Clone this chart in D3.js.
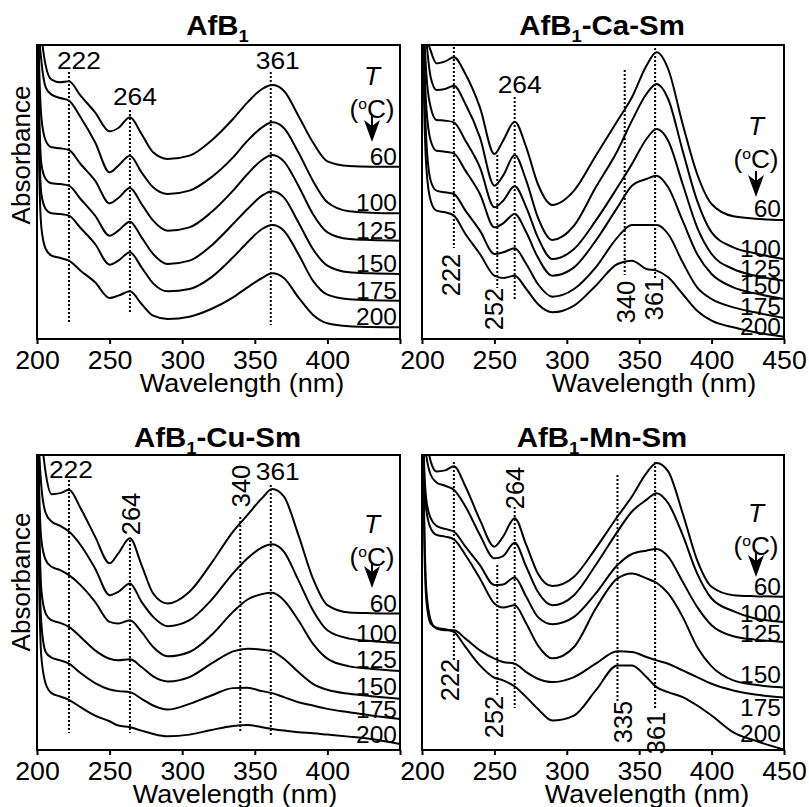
<!DOCTYPE html>
<meta charset="utf-8">
<style>
body { margin: 0; background: #fff; }
text { font-family: "Liberation Sans", Arial, sans-serif; fill: #000; }
.frame { fill: none; stroke: #000; stroke-width: 2px; }
.line { fill: none; stroke: #000; stroke-width: 2px; stroke-linejoin: round; }
.mark { stroke: #000; stroke-width: 2px; stroke-dasharray: 2,2; }
.axis path { display: none; }
.axis line { stroke: #000; stroke-width: 2px; }
</style>

<svg id="chart" width="809" height="807"></svg>

<script src="https://d3js.org/d3.v7.min.js"></script>
<script>
// wavelength grid (nm) shared by every spectrum
var wavelengths = [200.5, 201.5, 203, 206, 210, 216, 222, 230, 240, 250, 256, 264, 272, 280,
                   290, 305, 320, 335, 345, 355, 362, 370, 380, 390, 400, 415, 430, 450];

var temps = ["60", "100", "125", "150", "175", "200"];
var xTicks = [200, 250, 300, 350, 400, 450];

// absorbance (arbitrary units, curves offset), one row per temperature
var afb1 = [
  [109, 99.5, 91.5, 82, 77.8, 77.0, 77.3, 73, 68, 62.3, 63.3, 66.5, 61.5, 56, 54, 55, 59.5, 66, 71, 75, 76.2, 74.5, 67, 59, 53.3, 51.9, 51.7, 51.7],
  [105, 91.5, 83.5, 75.5, 73.3, 72.3, 71.5, 66.5, 59, 50, 52, 55, 50, 45.5, 43.5, 44.5, 48.5, 54.5, 59.5, 63.5, 65, 63.3, 56, 47.5, 41, 38.3, 37.9, 37.7],
  [100, 81.5, 66.5, 59.5, 57.5, 57.2, 56.7, 52.5, 47.5, 40.7, 42.3, 45.3, 40.5, 35.5, 32.5, 33.5, 38, 44.5, 49.5, 53.7, 55.2, 53.3, 46, 37.5, 32, 30, 29.7, 29.5],
  [98, 69.5, 52.5, 48, 46.7, 46.5, 46, 42, 37, 31, 32.5, 35.2, 30.5, 25.5, 22.5, 23.5, 28, 34.5, 39, 43, 44.3, 42.5, 35, 27, 22, 20, 19.7, 19.5],
  [95, 61.5, 43.5, 39, 37.7, 37.5, 37, 33.3, 28.5, 22.3, 23.5, 26, 21.5, 16.7, 14.3, 15, 18.5, 24.5, 29, 33, 34.2, 32.5, 25.5, 17.5, 13.3, 11.9, 11.6, 11.5],
  [92, 51.5, 33.5, 27, 25, 24.3, 23.5, 20.5, 17, 12.3, 13, 14.3, 10.5, 7, 6, 6.7, 9, 12.5, 15.5, 18.3, 19.7, 18.3, 12.5, 7.3, 4.7, 3.8, 3.6, 3.5]
];

var afb1Ca = [
  [110, 100, 91.5, 86.5, 82.7, 83.3, 84.5, 79.5, 69.5, 55.5, 59.5, 65.2, 57.5, 46.5, 40.2, 44.5, 55, 65.5, 72.5, 82, 86, 81, 64.5, 49.5, 40.5, 36.8, 36.1, 35.7],
  [108, 97, 89.5, 78.5, 74.7, 75, 76, 70.5, 60.5, 46, 49, 55.2, 47.5, 36.5, 29.7, 34, 45.5, 56.5, 65.5, 73.5, 76.5, 72, 56.5, 41.5, 32, 27.5, 25.7, 24],
  [105, 92, 79.5, 69.5, 65.7, 65.5, 65, 59.5, 51.5, 39.5, 41.5, 45.8, 39.5, 30.5, 24, 27, 35.5, 45.5, 52.5, 60, 63, 59.5, 46.5, 33.5, 25.5, 21, 19, 17.5],
  [102, 85, 69.5, 59.5, 56.5, 56.2, 55.7, 50.5, 43.5, 33.5, 34.7, 37.5, 32, 24.5, 19, 21.5, 29.5, 39.5, 46, 48, 49, 45.5, 35.5, 25.5, 19.5, 15.5, 13.7, 12],
  [100, 78, 59.5, 47.5, 44.5, 44, 43.5, 38.5, 32.5, 25.5, 26, 27.2, 22.5, 16.5, 12.7, 15, 21.5, 30.5, 34.2, 34.2, 34.2, 31.5, 23, 15.5, 12, 9.5, 8, 6.3],
  [98, 70, 51.5, 41.5, 38.5, 38, 37, 31.5, 25.5, 19, 18.3, 19, 15, 10.5, 8, 10, 16, 22.5, 23.5, 21, 20.5, 18.5, 13.5, 8.5, 5.5, 3.5, 2, 0.7]
];

var afb1Cu = [
  [110, 100, 93.8, 82.8, 76.5, 76.8, 77.8, 72.3, 63.8, 55.8, 58.8, 63.3, 55.3, 46.8, 43.8, 47.3, 55.8, 65.3, 70.3, 75.3, 78, 75.8, 64.3, 51.3, 43.3, 41.1, 40.9, 40.8],
  [105, 89.8, 78.8, 70.8, 68.3, 67, 65.3, 61.3, 54.3, 46.3, 47.3, 49.8, 44.3, 39.8, 37, 38.8, 44.8, 52.8, 57.3, 60.6, 61.5, 59.3, 50.8, 41.8, 35.8, 33.3, 32.6, 32],
  [102, 77.8, 62.8, 56.8, 54.8, 53.8, 52.3, 49.3, 44.3, 38.3, 37.8, 38.8, 35.3, 30.8, 28, 29.3, 34.3, 41.3, 45, 46.6, 47, 44.8, 38.8, 31.8, 27.3, 25, 24.3, 23.6],
  [100, 69.8, 47.8, 40.8, 38.8, 38, 36.8, 33.8, 29.8, 27.3, 26.8, 27.1, 24.8, 22, 20.5, 21.8, 25.8, 29.5, 30.3, 30, 29.5, 27.3, 23.3, 19.8, 18, 16.8, 16.1, 15.3],
  [97, 59.8, 37.8, 29.3, 27.6, 26.8, 25.8, 23, 20, 18.1, 17.6, 17.3, 15.3, 13.3, 12.1, 13.8, 16.3, 18.5, 18.6, 17.6, 17, 15.8, 14.3, 13.3, 12.3, 11.3, 10.3, 9.3],
  [95, 49.8, 27.8, 19.8, 17, 16, 15, 12.8, 10.3, 8.6, 7.3, 6.8, 5.8, 4.8, 4.1, 4.6, 6, 7.2, 7.5, 6.8, 6.3, 5.8, 5.3, 5, 4.6, 4, 3.3, 1.8]
];

var afb1Mn = [
  [110, 100, 93.8, 86.3, 83.3, 83.6, 84.8, 78.8, 68.8, 60.8, 63.8, 69.3, 61.3, 52.8, 49, 51.8, 60.3, 69.8, 75.8, 82.8, 85.8, 83.3, 70.8, 56.8, 48.8, 46.3, 46, 45.8],
  [108, 92.8, 87.8, 82.3, 80, 79, 77.8, 72.8, 64.3, 57.3, 58, 62, 54.8, 47.3, 43.3, 46.3, 55.3, 65.3, 71.3, 74.8, 76.8, 73.8, 64.3, 52.8, 45.3, 41.5, 39.3, 38.3],
  [105, 84.8, 74.8, 69.3, 67, 66.1, 65.3, 60.8, 55.3, 49.3, 49.5, 51.6, 45.8, 39.8, 37.6, 39.8, 46.8, 55.3, 58.6, 59.6, 60.1, 57.8, 50.3, 42.8, 37.3, 34, 33, 32.3],
  [104, 81.8, 71.8, 66.3, 64.3, 63.8, 63, 58.3, 51.3, 43.8, 42.6, 43.3, 37.8, 31.3, 27.4, 30.8, 42.3, 51.3, 52.8, 51.3, 50, 46.8, 39.8, 30.8, 25, 20.8, 19.5, 18.7],
  [100, 69.8, 47.8, 38.8, 36.3, 35.8, 35.8, 33.3, 29.8, 27.3, 26.3, 25.8, 23.3, 21.3, 20.3, 21.8, 25.8, 29.5, 29.3, 27.8, 26.8, 25.8, 23.8, 21.8, 19.8, 17.8, 16.6, 15.7],
  [98, 64.8, 44.8, 37.8, 36.6, 36.1, 35.3, 30.8, 25.3, 21.6, 20.8, 19, 15.8, 12.3, 8.8, 10.3, 17.8, 25.3, 25.3, 21.8, 18.8, 17.3, 15.8, 13.3, 10.3, 5.3, 2.8, 0.1]
];

// band positions (nm) marked with dotted lines
var peaks1 = [222, 264, 361];
var peaksCa = [222, 252, 264, 340, 361];
var peaksCu = [222, 264, 340, 361];
var peaksMn = [222, 252, 264, 335, 361];

// layout for each panel (pixels)
// marks: [line top, line bottom, label dx, label y, rotated?]
var panels = [
  {suffix: "", series: afb1, peaks: peaks1, left: 37, top: 45, width: 363, height: 294,
   last: false, ylab: 110, xlab: 205,
   marks: [[27, 278, 10, 24, 0], [65, 267, 5, 60, 0], [27, 280, 7, 24, 0]],
   labelDy: [-2, -2, -2, -2, -2, -2], tBase: 40, cBase: 73, tip: 97},
  {suffix: "-Ca-Sm", series: afb1Ca, peaks: peaksCa, left: 422, top: 45, width: 362, height: 294,
   last: true, xlab: 232,
   marks: [[2, 203, -3, 230, 1], [110, 243, -3, 264, 1], [52, 255, 5, 48, 0], [25, 230, 1, 257, 1], [3, 234, -1, 254, 1]],
   labelDy: [-3, -2, -4, -5, -3, -2], tBase: 90, cBase: 123, tip: 152},
  {suffix: "-Cu-Sm", series: afb1Cu, peaks: peaksCu, left: 37, top: 455, width: 363, height: 295,
   last: false, ylab: 127, xlab: 198,
   marks: [[25, 278, 2, 23, 0], [85, 278, 1, 59, 1], [62, 278, 1, 31, 1], [30, 280, 7, 25, 0]],
   labelDy: [-2, -1, -3, -4, -1, -1], tBase: 78, cBase: 111, tip: 133},
  {suffix: "-Mn-Sm", series: afb1Mn, peaks: peaksMn, left: 422, top: 455, width: 362, height: 295,
   last: true, xlab: 225,
   marks: [[7, 207, -4, 225, 1], [110, 242, -3, 262, 1], [52, 253, 0, 33, 1], [20, 248, 5, 267, 1], [7, 255, 1, 278, 1]],
   labelDy: [-2, 0, 0, -4, 19, -8], tBase: 67, cBase: 100, tip: 122}
];

var svg = d3.select("#chart");

// horizontally widened text, positioned by transform
function place(x, y, sx) {
  return "translate(" + x + "," + y + ") scale(" + sx + ",1)";
}

panels.forEach(function(p, k) {
  var g = svg.append("g").attr("transform", "translate(" + p.left + "," + p.top + ")");

  var x = d3.scaleLinear().domain([200, 450]).range([0, p.width]),
      y = d3.scaleLinear().domain([0, 88.2]).range([p.height, 0]);

  var line = d3.line()
      .curve(d3.curveMonotoneX)
      .x(function(d, i) { return x(wavelengths[i]); })
      .y(function(d) { return y(d); });

  g.append("clipPath").attr("id", "clip" + k)
    .append("rect").attr("width", p.width).attr("height", p.height);

  // dotted band markers
  g.selectAll(".mark")
    .data(p.peaks)
    .enter().append("line")
      .attr("class", "mark")
      .attr("x1", function(d) { return x(d); })
      .attr("x2", function(d) { return x(d); })
      .attr("y1", function(d, i) { return p.marks[i][0]; })
      .attr("y2", function(d, i) { return p.marks[i][1]; });

  g.selectAll(".peak-label")
    .data(p.peaks)
    .enter().append("text")
      .attr("class", "peak-label")
      .attr("text-anchor", "middle")
      .style("font-size", function(d, i) { return p.marks[i][4] ? "25.5px" : "24px"; })
      .attr("transform", function(d, i) {
        var m = p.marks[i];
        return m[4] ? "translate(" + (x(d) + m[2]) + "," + m[3] + ") rotate(-90)"
                    : place(x(d) + m[2], m[3], 1.1);
      })
      .attr("dy", function(d, i) { return p.marks[i][4] ? "0.36em" : 0; })
      .text(function(d) { return d; });

  // spectra
  g.append("g").attr("clip-path", "url(#clip" + k + ")")
    .selectAll(".line")
    .data(p.series)
    .enter().append("path")
      .attr("class", "line")
      .attr("d", line);

  // temperature labels at the curve ends
  g.selectAll(".temp")
    .data(p.series)
    .enter().append("text")
      .attr("class", "temp")
      .attr("text-anchor", "end")
      .attr("transform", function(d, i) {
        return place(p.width - 3, y(d[d.length - 1]) + p.labelDy[i], 1.0);
      })
      .style("font-size", "24.5px")
      .text(function(d, i) { return temps[i]; });

  // T (°C) with arrow
  var cx = p.width - 28;
  g.append("text")
      .attr("transform", place(cx, p.tBase, 1.05))
      .attr("text-anchor", "middle")
      .style("font-size", "25px")
      .style("font-style", "italic")
      .text("T");
  var unit = g.append("text")
      .attr("transform", place(cx, p.cBase, 1.05))
      .attr("text-anchor", "middle")
      .style("font-size", "25px");
  unit.append("tspan").text("(");
  unit.append("tspan").attr("dy", -9).style("font-size", "15px").text("o");
  unit.append("tspan").attr("dy", 9).text("C)");

  g.append("line")
      .attr("x1", cx).attr("x2", cx)
      .attr("y1", p.tip - 26).attr("y2", p.tip - 12)
      .attr("stroke", "#000").attr("stroke-width", 2);
  g.append("path")
      .attr("transform", "translate(" + cx + "," + p.tip + ")")
      .attr("d", "M0,0L-8,-22L0,-16L8,-22Z")
      .attr("fill", "#000");

  // frame
  g.append("rect")
      .attr("class", "frame")
      .attr("width", p.width)
      .attr("height", p.height);

  // x axis
  var ax = g.append("g")
      .attr("class", "axis")
      .attr("transform", "translate(0," + p.height + ")")
      .call(d3.axisBottom(x).tickValues(xTicks).tickSize(5).tickSizeOuter(0));
  ax.selectAll("text")
      .attr("y", 0).attr("dy", 0)
      .attr("transform", place(0, 30, 1.07))
      .style("font-size", "25px")
      .style("font-family", "'Liberation Sans', Arial, sans-serif")
      .style("display", function(d) { return (d === 450 && !p.last) ? "none" : null; });

  g.append("text")
      .attr("transform", place(p.xlab, p.height + 53, 1.08))
      .attr("text-anchor", "middle")
      .style("font-size", "25px")
      .text("Wavelength (nm)");

  if (p.ylab) {
    g.append("text")
        .attr("transform", "translate(" + (21 - p.left) + "," + p.ylab + ") rotate(-90)")
        .attr("dy", "0.36em")
        .attr("text-anchor", "middle")
        .style("font-size", "26px")
        .text("Absorbance");
  }

  // title with subscript
  var t = g.append("text")
      .attr("transform", place(p.width / 2 - 1, k < 2 ? -10 : -8, 1.09))
      .attr("text-anchor", "middle")
      .style("font-size", "27px")
      .style("font-weight", "bold");
  t.append("tspan").text("AfB");
  t.append("tspan").attr("dy", 7).style("font-size", "17px").text("1");
  if (p.suffix) t.append("tspan").attr("dy", -7).text(p.suffix);
});
</script>
